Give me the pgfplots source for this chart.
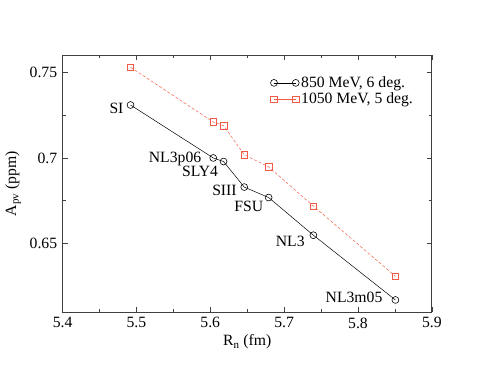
\documentclass[border=0pt]{standalone}
\usepackage{fontspec}
\setmainfont{Liberation Serif}
\usepackage{pgfplots}
\pgfplotsset{compat=1.18}
\definecolor{sqred}{RGB}{245,90,70}
\begin{document}
\fontsize{16}{18}\selectfont
\begin{tikzpicture}
\begin{axis}[
  at={(0,0)}, anchor=south west,
  scale only axis, width=375bp, height=261bp,
  xmin=5.4, xmax=5.9, ymin=0.61, ymax=0.76,
  xtick={5.4,5.5,...,5.9},
  ytick={0.65,0.7,0.75},
  minor x tick num=1, minor y tick num=1,
  xticklabels={5.4,5.5,5.6,5.7,5.8,5.9},
  yticklabels={0.65,0.7,0.75},
  tick align=inside,
  major tick length=5bp, minor tick length=3bp,
  axis line style={black!75, line width=0.8pt},
  every tick/.style={black!75, line width=0.6pt},
  /pgf/number format/assume math mode=true,
  tick label style={font=\fontsize{16}{18}\selectfont},
  xlabel={R\textsubscript{n} (fm)},
  ylabel={A\textsubscript{pv} (ppm)},
  label style={font=\fontsize{16}{18}\selectfont},
  xlabel style={yshift=4bp},
  ylabel style={yshift=-2bp},
  legend style={draw=none, fill=none, at={(0.56,0.93)}, anchor=north west,
    font=\fontsize{16}{18}\selectfont, row sep=-1bp, inner sep=1bp},
  legend cell align=left,
  legend image code/.code={
    \draw[#1, mark=none] (0cm,0cm) -- (0.78cm,0cm);
    \draw[#1, solid] plot coordinates {(0cm,0cm) (0.78cm,0cm)};
  },
]
\addplot[black, line width=0.5pt, mark=o, mark size=3.5bp,
  mark options={solid, line width=0.6pt}] coordinates {
  (5.492,0.7309) (5.604,0.7000) (5.618,0.6979) (5.646,0.6830)
  (5.679,0.6769) (5.7396,0.6549) (5.8507,0.6171)
};
\addplot[sqred, densely dashed, line width=0.5pt, mark=square, mark size=3.3bp,
  mark options={solid, line width=0.6pt}] coordinates {
  (5.492,0.7529) (5.604,0.7210) (5.618,0.7189) (5.646,0.7019)
  (5.679,0.6948) (5.7396,0.6719) (5.8507,0.6309)
};
\legend{{850 MeV, 6 deg.}, {1050 MeV, 5 deg.}}
\node[anchor=east, inner sep=0pt] at (axis cs:5.4827,0.7288) {SI};
\node[anchor=east, inner sep=0pt] at (axis cs:5.588,0.6996) {NL3p06};
\node[anchor=east, inner sep=0pt] at (axis cs:5.6107,0.6922) {SLY4};
\node[anchor=east, inner sep=0pt] at (axis cs:5.636,0.6813) {SIII};
\node[anchor=east, inner sep=0pt] at (axis cs:5.672,0.6715) {FSU};
\node[anchor=east, inner sep=0pt] at (axis cs:5.728,0.6515) {NL3};
\node[anchor=east, inner sep=0pt] at (axis cs:5.8333,0.6188) {NL3m05};
\end{axis}
\useasboundingbox (-56bp,-57bp) rectangle (429bp,317bp);
\end{tikzpicture}
\end{document}
